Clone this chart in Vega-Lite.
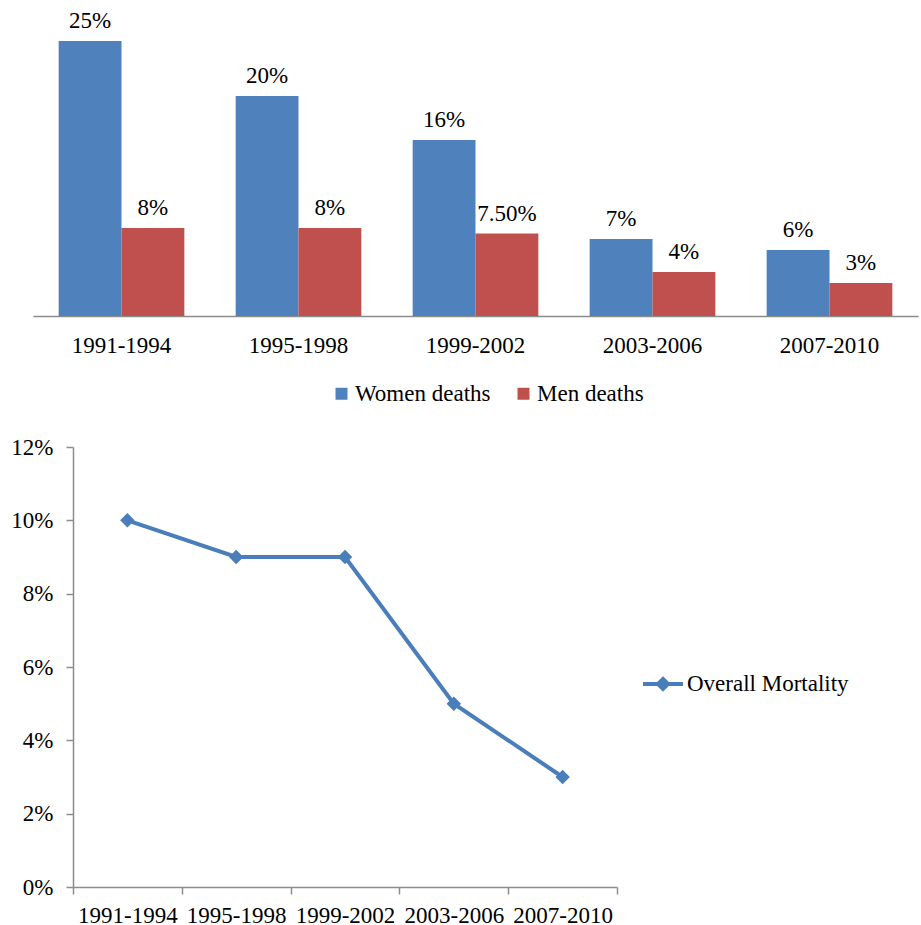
{
  "$schema": "https://vega.github.io/schema/vega-lite/v6.json",
  "padding": {"left": 10, "top": 8, "right": 0, "bottom": 0},
  "spacing": 30,
  "columns": 1,
  "resolve": {"scale": {"color": "independent"}, "legend": {"color": "independent"}},
  "config": {
    "font": "Liberation Serif",
    "view": {"stroke": null},
    "axis": {"labelFont": "Liberation Serif", "labelFontSize": 23, "labelColor": "#000000", "domainColor": "#8C8C8C", "tickColor": "#8C8C8C", "domainWidth": 1.5, "tickWidth": 1.5, "grid": false, "title": null},
    "legend": {"labelFont": "Liberation Serif", "labelFontSize": 23, "labelColor": "#000000", "title": null, "padding": 0, "labelLimit": 400}
  },
  "datasets": {
    "bars": [
      {"period": "1991-1994", "sex": "Women deaths", "value": 0.25, "label": "25%"},
      {"period": "1991-1994", "sex": "Men deaths", "value": 0.08, "label": "8%"},
      {"period": "1995-1998", "sex": "Women deaths", "value": 0.20, "label": "20%"},
      {"period": "1995-1998", "sex": "Men deaths", "value": 0.08, "label": "8%"},
      {"period": "1999-2002", "sex": "Women deaths", "value": 0.16, "label": "16%"},
      {"period": "1999-2002", "sex": "Men deaths", "value": 0.075, "label": "7.50%"},
      {"period": "2003-2006", "sex": "Women deaths", "value": 0.07, "label": "7%"},
      {"period": "2003-2006", "sex": "Men deaths", "value": 0.04, "label": "4%"},
      {"period": "2007-2010", "sex": "Women deaths", "value": 0.06, "label": "6%"},
      {"period": "2007-2010", "sex": "Men deaths", "value": 0.03, "label": "3%"}
    ],
    "mortality": [
      {"period": "1991-1994", "series": "Overall Mortality", "value": 0.10},
      {"period": "1995-1998", "series": "Overall Mortality", "value": 0.09},
      {"period": "1999-2002", "series": "Overall Mortality", "value": 0.09},
      {"period": "2003-2006", "series": "Overall Mortality", "value": 0.05},
      {"period": "2007-2010", "series": "Overall Mortality", "value": 0.03}
    ]
  },
  "concat": [
    {
      "width": 845,
      "height": 308,
      "data": {"name": "bars"},
      "encoding": {
        "x": {"field": "period", "type": "nominal", "sort": null, "scale": {"range": [-40, 845], "paddingInner": 0.29, "paddingOuter": 0.145}, "axis": {"labelAngle": 0, "ticks": false, "tickSize": 0, "labelPadding": 18, "title": null}},
        "xOffset": {"field": "sex", "type": "nominal", "sort": ["Women deaths", "Men deaths"], "scale": {"paddingInner": 0, "paddingOuter": 0}},
        "y": {"field": "value", "type": "quantitative", "scale": {"domain": [0, 0.28]}, "axis": null}
      },
      "layer": [
        {
          "mark": {"type": "bar"},
          "encoding": {
            "color": {"field": "sex", "type": "nominal", "sort": ["Women deaths", "Men deaths"], "scale": {"domain": ["Women deaths", "Men deaths"], "range": ["#4F81BD", "#C0504D"]},
              "legend": {"orient": "none", "direction": "horizontal", "legendX": 257, "legendY": 374, "symbolType": "square", "symbolSize": 144, "symbolStrokeWidth": 0, "labelOffset": 2, "columnPadding": 21}}
          }
        },
        {
          "mark": {"type": "text", "baseline": "alphabetic", "dy": -13, "fontSize": 23, "font": "Liberation Serif", "color": "#000000"},
          "encoding": {"text": {"field": "label", "type": "nominal"}}
        }
      ]
    },
    {
      "width": 544,
      "height": 440,
      "data": {"name": "mortality"},
      "encoding": {
        "x": {"field": "period", "type": "nominal", "sort": null, "scale": {"type": "band", "paddingInner": 0, "paddingOuter": 0}, "axis": {"labelAngle": 0, "tickBand": "extent", "tickSize": 7, "labelPadding": 10.5}},
        "y": {"field": "value", "type": "quantitative", "scale": {"domain": [0, 0.12]}, "axis": {"values": [0, 0.02, 0.04, 0.06, 0.08, 0.10, 0.12], "format": ".0%", "tickSize": 7, "labelPadding": 13}},
        "color": {"field": "series", "type": "nominal", "scale": {"range": ["#4A7EBB"]},
          "legend": {"orient": "none", "legendX": 568, "legendY": 215, "symbolType": "M-1,0L1,0M0,-0.25L0.25,0L0,0.25L-0.25,0Z", "symbolSize": 1600, "symbolStrokeWidth": 4, "symbolFillColor": "#4A7EBB", "symbolStrokeColor": "#4A7EBB", "labelOffset": 2}}
      },
      "mark": {"type": "line", "strokeWidth": 4, "point": {"shape": "diamond", "size": 210, "filled": true}}
    }
  ]
}
